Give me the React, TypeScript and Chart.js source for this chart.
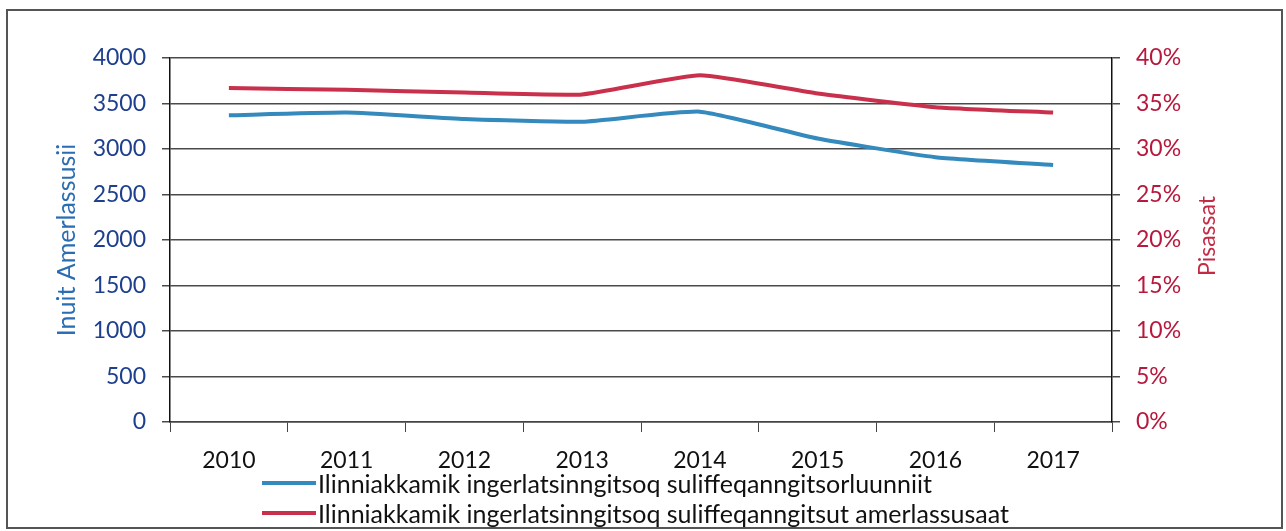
import React, { useEffect, useRef } from "react";
import { Chart, registerables } from "chart.js";

Chart.register(...registerables);

// ---- data ----
const years = ["2010", "2011", "2012", "2013", "2014", "2015", "2016", "2017"];
const unemployedCounts = [3370, 3400, 3330, 3300, 3410, 3115, 2910, 2825];
const unemployedShares = [36.7, 36.5, 36.2, 36.0, 38.1, 36.1, 34.6, 34.0];
const countLabel = "Ilinniakkamik ingerlatsinngitsoq suliffeqanngitsorluunniit";
const shareLabel = "Ilinniakkamik ingerlatsinngitsoq suliffeqanngitsut amerlassusaat";
const leftTitle = "Inuit Amerlassusii";
const rightTitle = "Pisassat";

const BLUE = "#3489bd";
const RED = "#c9304b";
const FONT = "Lato";

export default function App() {
  const ref = useRef<HTMLCanvasElement | null>(null);

  useEffect(() => {
    let chart: Chart | null = null;
    let cancelled = false;
    const make = () => {
      if (cancelled || !ref.current) return;
      const rightTitlePlugin = {
        id: "rightTitle",
        afterDraw(c: any) {
          const s = c.scales.y1;
          const ctx = c.ctx;
          ctx.save();
          ctx.translate(s.right - 78, (c.chartArea.top + c.chartArea.bottom) / 2 - 4);
          ctx.rotate(-Math.PI / 2);
          ctx.textAlign = "center";
          ctx.textBaseline = "middle";
          ctx.font = `23px ${FONT}`;
          ctx.fillStyle = "#c52a44";
          ctx.fillText(rightTitle, 0, 0);
          ctx.restore();
        },
      };
      chart = new Chart(ref.current, {
        type: "line",
        data: {
          labels: years,
          datasets: [
            {
              label: countLabel,
              data: unemployedCounts,
              yAxisID: "y",
              borderColor: BLUE,
              backgroundColor: BLUE,
              borderWidth: 4,
              pointRadius: 0,
              tension: 0.15,
            },
            {
              label: shareLabel,
              data: unemployedShares,
              yAxisID: "y1",
              borderColor: RED,
              backgroundColor: RED,
              borderWidth: 4,
              pointRadius: 0,
              tension: 0.15,
            },
          ],
        },
        options: {
          responsive: false,
          animation: false,
          layout: { padding: { top: 58, left: 0, right: 0, bottom: 0 } },
          plugins: { legend: { display: false }, tooltip: { enabled: false } },
          scales: {
            x: {
              offset: true,
              grid: { drawOnChartArea: false, drawTicks: true, tickLength: 10, color: "#444", offset: true },
              border: { display: true, color: "#444", width: 1.5 },
              ticks: {
                color: "#111",
                font: { family: FONT, size: 23 },
                padding: 15,
                maxRotation: 0,
                autoSkip: false,
              },
              afterFit: (s: any) => {
                s.height = 109;
              },
            },
            y: {
              position: "left",
              min: 0,
              max: 4000,
              ticks: {
                stepSize: 500,
                color: "#1d3f8e",
                font: { family: FONT, size: 23 },
                padding: 16,
                callback: (v: any) => String(v),
              },
              grid: { color: "#4a4a4a", lineWidth: 1.5, tickLength: 8 },
              border: { display: true, color: "#111", width: 1.5 },
              title: {
                display: true,
                text: leftTitle,
                color: "#2a6db2",
                font: { family: FONT, size: 25 },
                padding: { top: 52, bottom: 0 },
              },
              afterFit: (s: any) => {
                s.width = 170;
              },
            },
            y1: {
              position: "right",
              min: 0,
              max: 40,
              ticks: {
                stepSize: 5,
                color: "#b8183c",
                font: { family: FONT, size: 23 },
                padding: 16,
                callback: (v: any) => `${v}%`,
              },
              grid: { drawOnChartArea: false, color: "#4a4a4a", lineWidth: 1.5, tickLength: 8 },
              border: { display: true, color: "#111", width: 1.5 },
              afterFit: (s: any) => {
                s.width = 174;
              },
            },
          },
        },
        plugins: [rightTitlePlugin],
      });
    };
    const fontsReady = (document as any).fonts
      ? (document as any).fonts.load(`22px ${FONT}`).catch(() => null)
      : Promise.resolve();
    fontsReady.then(make);
    return () => {
      cancelled = true;
      if (chart) chart.destroy();
    };
  }, []);

  const legendItems = [
    { label: countLabel, color: BLUE },
    { label: shareLabel, color: RED },
  ];

  return (
    <div style={{ position: "absolute", left: 0, top: 0, width: 1286, height: 531, background: "#fff", overflow: "hidden" }}>
      <div
        style={{
          position: "absolute",
          left: 6,
          top: 9,
          width: 1273,
          height: 516,
          border: "2px solid #555",
        }}
      />
      <canvas ref={ref} width={1286} height={531} style={{ position: "absolute", left: 0, top: 0, display: "block" }} />
      <div style={{ position: "absolute", left: 262, top: 468, fontFamily: FONT, fontSize: 25, color: "#111" }}>
        {legendItems.map((it) => (
          <div key={it.label} style={{ display: "flex", alignItems: "center", height: 30, whiteSpace: "nowrap" }}>
            <span style={{ display: "inline-block", width: 54, height: 4, background: it.color, marginRight: 2 }} />
            <span>{it.label}</span>
          </div>
        ))}
      </div>
    </div>
  );
}
